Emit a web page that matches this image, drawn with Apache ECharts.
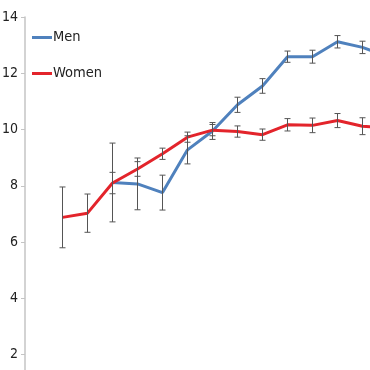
<!DOCTYPE html>
<html>
<head>
<meta charset="utf-8">
<script src="https://cdn.jsdelivr.net/npm/echarts@6/dist/echarts.min.js"></script>
<style>html,body{margin:0;padding:0;background:#fff}#c{width:370px;height:370px}</style>
</head>
<body>
<div id="c"></div>
<script>
var xIndex = [0, 1, 2, 3, 4, 5, 6, 7, 8, 9, 10, 11, 12, 13];
var menMean = [null, null, 8.12, 8.07, 7.76, 9.28, 9.95, 10.88, 11.55, 12.59, 12.59, 13.12, 12.92, 12.6];
var menErr = [null, null, 1.4, 0.92, 0.62, 0.5, 0.3, 0.27, 0.26, 0.2, 0.23, 0.22, 0.22, 0.22];
var womenMean = [6.88, 7.03, 8.1, 8.6, 9.14, 9.73, 9.98, 9.93, 9.82, 10.17, 10.15, 10.32, 10.12, 10.05];
var womenErr = [1.08, 0.68, 0.38, 0.26, 0.2, 0.18, 0.2, 0.2, 0.2, 0.22, 0.26, 0.25, 0.3, 0.3];
var yTicks = [0, 2, 4, 6, 8, 10, 12, 14];

function pairs(vals) {
  return xIndex.map(function (x, i) { return [x, vals[i]]; });
}
function errData(vals, errs) {
  var out = [];
  xIndex.forEach(function (x, i) {
    if (vals[i] != null) out.push([x, vals[i] - errs[i], vals[i] + errs[i]]);
  });
  return out;
}
function errRender(params, api) {
  var x = api.value(0);
  var lo = api.coord([x, api.value(1)]);
  var hi = api.coord([x, api.value(2)]);
  var w = 3;
  var st = { stroke: '#555', lineWidth: 1 };
  return {
    type: 'group',
    children: [
      { type: 'line', shape: { x1: lo[0], y1: lo[1], x2: hi[0], y2: hi[1] }, style: st },
      { type: 'line', shape: { x1: lo[0] - w, y1: lo[1], x2: lo[0] + w, y2: lo[1] }, style: st },
      { type: 'line', shape: { x1: hi[0] - w, y1: hi[1], x2: hi[0] + w, y2: hi[1] }, style: st }
    ]
  };
}

var font = "'DejaVu Sans Condensed', 'Liberation Sans Narrow', sans-serif";
var chart = echarts.init(document.getElementById('c'), null, { renderer: 'canvas' });
chart.setOption({
  animation: false,
  backgroundColor: '#fff',
  grid: { left: 25, top: 17, width: 400, height: 394, containLabel: false, outerBoundsMode: 'none' },
  legend: {
    orient: 'vertical',
    left: 27,
    top: 25,
    itemGap: 21,
    itemWidth: 20,
    itemHeight: 3,
    icon: 'rect',
    textStyle: { fontFamily: font, fontSize: 14.5, color: '#222', padding: [0, 0, 0, -4] },
    data: ['Men', 'Women']
  },
  xAxis: {
    type: 'value',
    min: -1.5,
    max: 14.5,
    show: false
  },
  yAxis: {
    type: 'value',
    min: 0,
    max: 14,
    interval: 2,
    axisLine: { show: true, onZero: false, lineStyle: { color: '#c4c4c4', width: 1.5 } },
    axisTick: { show: true, length: 4, lineStyle: { color: '#c4c4c4' } },
    splitLine: { show: false },
    axisLabel: {
      margin: 7,
      fontFamily: font,
      fontSize: 14,
      color: '#222',
      formatter: function (v) { return yTicks.indexOf(v) >= 0 && v > 0 ? String(v) : ''; }
    }
  },
  series: [
    {
      name: 'Men', type: 'line', data: pairs(menMean), showSymbol: false, symbol: 'none',
      connectNulls: false, color: '#4F81BD', lineStyle: { width: 3, color: '#4F81BD' }, z: 2
    },
    {
      name: 'Women', type: 'line', data: pairs(womenMean), showSymbol: false, symbol: 'none',
      color: '#E3242B', lineStyle: { width: 3, color: '#E3242B' }, z: 2
    },
    { type: 'custom', renderItem: errRender, data: errData(menMean, menErr), z: 3, silent: true },
    { type: 'custom', renderItem: errRender, data: errData(womenMean, womenErr), z: 3, silent: true }
  ]
});
</script>
</body>
</html>
